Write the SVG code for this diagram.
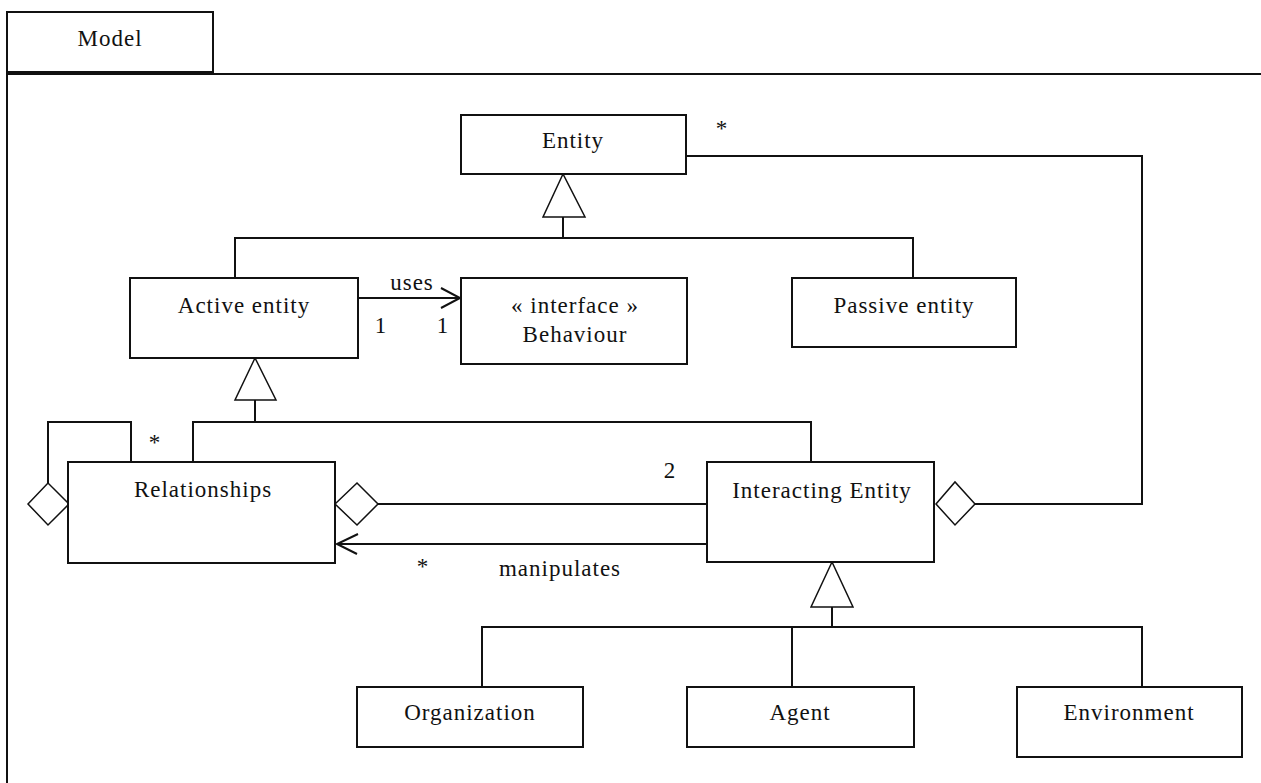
<svg xmlns="http://www.w3.org/2000/svg" width="1261" height="783" viewBox="0 0 1261 783">
<style>
.box{fill:#fff;stroke:#111;stroke-width:2}
.ln{fill:none;stroke:#111;stroke-width:2}
.tri{fill:#fff;stroke:#111;stroke-width:1.5}
.t{font-family:"Liberation Serif","Times New Roman",serif;font-size:23px;letter-spacing:1px;fill:#111;text-anchor:middle}
</style>
<rect width="1261" height="783" fill="#fff"/>
<g id="frame">
<rect class="box" x="7" y="12" width="206" height="60"/>
<text class="t" x="110" y="46">Model</text>
<path class="ln" d="M7 74 H1261 M7 72 V783"/>
</g>
<g id="connectors">
<path class="ln" d="M563 217 V238 M235 278 V238 H913 V278"/>
<polygon class="tri" points="563,174 543,217 585,217"/>
<path class="ln" d="M255 400 V422 M193 462 V422 H811 V462"/>
<polygon class="tri" points="255,358 235,400 276,400"/>
<path class="ln" d="M832 607 V627 M482 687 V627 H1142 V687 M792 627 V687"/>
<polygon class="tri" points="832,562 811,607 853,607"/>
<path class="ln" d="M358 298 H460 M441 288 L460 298 L441 308"/>
<text class="t" x="412" y="290">uses</text>
<text class="t" x="381" y="333">1</text>
<text class="t" x="443" y="333">1</text>
<path class="ln" d="M48 483 V422 H131 V462"/>
<polygon class="tri" points="28,504 48,483 69,504 48,525"/>
<text class="t" x="155" y="450">*</text>
<path class="ln" d="M378 504 H707"/>
<polygon class="tri" points="335,504 357,483 378,504 357,525"/>
<text class="t" x="670" y="478">2</text>
<path class="ln" d="M707 544 H337 M358 534 L337 544 L357 554"/>
<text class="t" x="423" y="574">*</text>
<text class="t" x="560" y="576">manipulates</text>
<path class="ln" d="M975 504 H1142 V156 H686"/>
<polygon class="tri" points="936,504 955,482 975,504 955,525"/>
<text class="t" x="722" y="136">*</text>
</g>
<g id="entity"><rect class="box" x="461" y="115" width="225" height="59"/><text class="t" x="573" y="148">Entity</text></g>
<g id="active-entity"><rect class="box" x="130" y="278" width="228" height="80"/><text class="t" x="244" y="313">Active entity</text></g>
<g id="behaviour"><rect class="box" x="461" y="278" width="226" height="86"/><text class="t" x="575" y="313">« interface »</text><text class="t" x="575" y="342">Behaviour</text></g>
<g id="passive-entity"><rect class="box" x="792" y="278" width="224" height="69"/><text class="t" x="904" y="313">Passive entity</text></g>
<g id="relationships"><rect class="box" x="68" y="462" width="267" height="101"/><text class="t" x="203" y="497">Relationships</text></g>
<g id="interacting-entity"><rect class="box" x="707" y="462" width="227" height="100"/><text class="t" x="822" y="498">Interacting Entity</text></g>
<g id="organization"><rect class="box" x="357" y="687" width="226" height="60"/><text class="t" x="470" y="720">Organization</text></g>
<g id="agent"><rect class="box" x="687" y="687" width="227" height="60"/><text class="t" x="800" y="720">Agent</text></g>
<g id="environment"><rect class="box" x="1017" y="687" width="225" height="70"/><text class="t" x="1129" y="720">Environment</text></g>
</svg>
